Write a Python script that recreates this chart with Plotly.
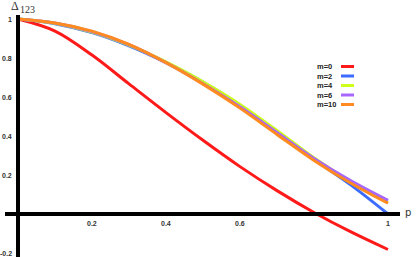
import plotly.graph_objects as go

# ---- data ----
p = [0, 0.1, 0.2, 0.3, 0.4, 0.5, 0.6, 0.7, 0.8, 0.9, 1.0]
m0 = [1.0, 0.938, 0.815, 0.667, 0.52, 0.378, 0.243, 0.12, 0.008, -0.092, -0.182]
m2 = [1.0, 0.976, 0.93, 0.862, 0.776, 0.677, 0.559, 0.42, 0.28, 0.148, 0.0]
m4 = [1.0, 0.978, 0.933, 0.866, 0.78, 0.678, 0.562, 0.428, 0.288, 0.165, 0.06]
m6 = [1.0, 0.979, 0.935, 0.868, 0.776, 0.668, 0.55, 0.418, 0.285, 0.17, 0.07]
m10 = [1.0, 0.98, 0.938, 0.87, 0.776, 0.666, 0.543, 0.408, 0.275, 0.158, 0.055]

series_names = ["m=0", "m=2", "m=4", "m=6", "m=10"]
series_vals = [m0, m2, m4, m6, m10]
colors = ["#ff1a1a", "#3b6cff", "#ccff1a", "#a866ff", "#ff8a1f"]

x_ticks = [0.2, 0.4, 0.6, 1]
x_tick_text = ["0.2", "0.4", "0.6", "1"]
y_ticks = [1, 0.8, 0.6, 0.4, 0.2, -0.2]
y_tick_text = ["1", "0.8", "0.6", "0.4", "0.2", "-0.2"]

# ---- figure ----
W, H = 416, 257
x_px0, x_px_per = 18.0, 370.0   # pixel of p=0, pixels per unit
y_px0, y_px_per = 214.0, 195.0  # pixel of value 0, pixels per unit
x_range = [(0 - x_px0) / x_px_per, (W - x_px0) / x_px_per]
y_range = [(y_px0 - H) / y_px_per, (y_px0 - 0) / y_px_per]

fig = go.Figure()

# axes lines
fig.add_shape(type="line", xref="x", yref="y",
              x0=(5 - x_px0) / x_px_per, x1=(400 - x_px0) / x_px_per, y0=0, y1=0,
              line=dict(color="black", width=4))
fig.add_shape(type="line", xref="x", yref="y",
              x0=0, x1=0, y0=(y_px0 - 15) / y_px_per, y1=y_range[0],
              line=dict(color="black", width=4))

for name, vals, c in zip(series_names, series_vals, colors):
    fig.add_trace(go.Scatter(x=p, y=vals, mode="lines", name=name,
                             line=dict(color=c, width=3, shape="spline", smoothing=1.0),
                             showlegend=False, hoverinfo="skip"))

tick_font = dict(family="Liberation Sans, Arial", size=7, color="#333333")
for v, t in zip(x_ticks, x_tick_text):
    fig.add_annotation(x=v, y=-0.02, xref="x", yref="y", text="<b>%s</b>" % t,
                       showarrow=False, xanchor="center", yanchor="top", font=tick_font)
for v, t in zip(y_ticks, y_tick_text):
    fig.add_annotation(x=(14 - x_px0) / x_px_per, y=v, xref="x", yref="y", text="<b>%s</b>" % t,
                       showarrow=False, xanchor="right", yanchor="middle", font=tick_font)

# axis titles
fig.add_annotation(x=9 / W, y=1 - 6 / H, xref="paper", yref="paper",
                   text="Δ", showarrow=False, xanchor="left", yanchor="middle",
                   font=dict(family="Liberation Serif", size=12, color="#333333"))
fig.add_annotation(x=18 / W, y=1 - 9.5 / H, xref="paper", yref="paper",
                   text="123", showarrow=False, xanchor="left", yanchor="middle",
                   font=dict(family="Liberation Serif", size=10, color="#333333"))
fig.add_annotation(x=403 / W, y=1 - 212 / H, xref="paper", yref="paper",
                   text="p", showarrow=False, xanchor="left", yanchor="middle",
                   font=dict(family="DejaVu Sans", size=10, color="#333333"))

# custom legend: text then swatch
row0, dy = 66.5, 9.5
for i, (name, c) in enumerate(zip(series_names, colors)):
    ypx = row0 + i * dy
    fig.add_annotation(x=315 / W, y=1 - ypx / H, xref="paper", yref="paper",
                       text="<b>%s</b>" % name, showarrow=False, xanchor="left", yanchor="middle",
                       font=dict(family="Liberation Sans, Arial", size=7.5, color="#222222"))
    fig.add_shape(type="line", xref="paper", yref="paper",
                  x0=341 / W, x1=354 / W, y0=1 - ypx / H, y1=1 - ypx / H,
                  line=dict(color=c, width=3))

fig.update_layout(
    width=W, height=H,
    margin=dict(l=0, r=0, t=0, b=0),
    paper_bgcolor="white", plot_bgcolor="white",
    xaxis=dict(range=x_range, visible=False, fixedrange=True),
    yaxis=dict(range=y_range, visible=False, fixedrange=True),
    showlegend=False,
)

fig.write_html("out.html", config={"displayModeBar": False},
               post_script="document.body.style.margin='0';document.body.style.padding='0';")
